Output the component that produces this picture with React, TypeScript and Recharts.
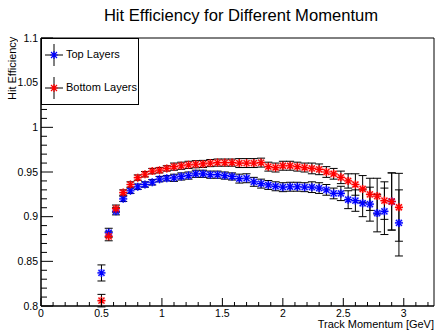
import React from 'react';
import { ScatterChart, Scatter, XAxis, YAxis, ErrorBar, ReferenceArea } from 'recharts';

const momentum = [
  0.5, 0.56, 0.62, 0.68, 0.74, 0.8, 0.86, 0.92, 0.98, 1.04, 1.1, 1.16, 1.22, 1.28,
  1.34, 1.4, 1.46, 1.52, 1.58, 1.64, 1.7, 1.76, 1.82, 1.88, 1.94, 2.0, 2.06, 2.12,
  2.18, 2.24, 2.3, 2.36, 2.42, 2.48, 2.54, 2.6, 2.66, 2.72, 2.78, 2.84, 2.9, 2.96,
];

const topEff = [
  0.837, 0.882, 0.906, 0.92, 0.929, 0.9335, 0.936, 0.9385, 0.942, 0.943, 0.9435, 0.945, 0.946, 0.948,
  0.948, 0.947, 0.947, 0.946, 0.945, 0.9426, 0.943, 0.939, 0.937, 0.9355, 0.934, 0.933, 0.9335, 0.9335,
  0.933, 0.933, 0.932, 0.93, 0.926, 0.926, 0.919, 0.918, 0.915, 0.914, 0.904, 0.906, 0.917, 0.893,
];
const topErr = [
  0.009, 0.005, 0.004, 0.003, 0.003, 0.003, 0.003, 0.003, 0.003, 0.003, 0.004, 0.004, 0.004, 0.004,
  0.004, 0.004, 0.004, 0.004, 0.004, 0.005, 0.005, 0.005, 0.005, 0.005, 0.005, 0.005, 0.005, 0.005,
  0.005, 0.006, 0.006, 0.006, 0.006, 0.008, 0.01, 0.012, 0.015, 0.019, 0.021, 0.026, 0.032, 0.037,
];

const bottomEff = [
  0.806, 0.878, 0.909, 0.927, 0.936, 0.9437, 0.9475, 0.951, 0.952, 0.954, 0.956, 0.957, 0.958, 0.9587,
  0.959, 0.96, 0.9605, 0.9605, 0.9605, 0.96, 0.96, 0.96, 0.9605, 0.956, 0.955, 0.957, 0.957, 0.956,
  0.955, 0.954, 0.953, 0.95, 0.948, 0.944, 0.94, 0.936, 0.931, 0.925, 0.923, 0.918, 0.917, 0.9105,
];
const bottomErr = [
  0.007, 0.005, 0.004, 0.003, 0.003, 0.003, 0.003, 0.003, 0.003, 0.003, 0.004, 0.004, 0.004, 0.004,
  0.004, 0.004, 0.004, 0.004, 0.004, 0.005, 0.005, 0.005, 0.005, 0.005, 0.005, 0.005, 0.005, 0.005,
  0.005, 0.006, 0.006, 0.006, 0.006, 0.007, 0.008, 0.012, 0.015, 0.018, 0.02, 0.021, 0.032, 0.038,
];

const xMajorTicks = [0, 0.5, 1, 1.5, 2, 2.5, 3];
const xMajorLabels = ['0', '0.5', '1', '1.5', '2', '2.5', '3'];
const xAllTicks = [
  0, 0.1, 0.2, 0.3, 0.4, 0.5, 0.6, 0.7, 0.8, 0.9, 1, 1.1, 1.2, 1.3, 1.4, 1.5, 1.6,
  1.7, 1.8, 1.9, 2, 2.1, 2.2, 2.3, 2.4, 2.5, 2.6, 2.7, 2.8, 2.9, 3, 3.1, 3.2,
];
const yMajorTicks = [0.8, 0.85, 0.9, 0.95, 1, 1.05, 1.1];
const yMajorLabels = ['0.8', '0.85', '0.9', '0.95', '1', '1.05', '1.1'];
const yAllTicks = [
  0.8, 0.81, 0.82, 0.83, 0.84, 0.85, 0.86, 0.87, 0.88, 0.89, 0.9, 0.91, 0.92, 0.93, 0.94, 0.95,
  0.96, 0.97, 0.98, 0.99, 1, 1.01, 1.02, 1.03, 1.04, 1.05, 1.06, 1.07, 1.08, 1.09, 1.1,
];

const seriesNames = ['Top Layers', 'Bottom Layers'];
const seriesColors = ['#0000ff', '#ff0000'];

const topData = momentum.map((x, i) => ({ x, y: topEff[i], err: topErr[i] }));
const bottomData = momentum.map((x, i) => ({ x, y: bottomEff[i], err: bottomErr[i] }));

const FONT = '"Liberation Sans", Arial, Helvetica, sans-serif';

const findMajor = (arr: number[], v: number) => arr.findIndex((m) => Math.abs(m - v) < 1e-6);

const XTick = (props: any) => {
  const { x, y, payload } = props;
  const idx = findMajor(xMajorTicks, payload.value);
  const major = idx >= 0;
  return (
    <g>
      <line x1={x} x2={x} y1={y} y2={y - (major ? 8 : 4)} stroke="#000" strokeWidth={1} />
      {major && (
        <text x={x} y={y + 11} textAnchor="middle" fontSize={10.5} fontFamily={FONT} fill="#000">
          {xMajorLabels[idx]}
        </text>
      )}
    </g>
  );
};

const YTick = (props: any) => {
  const { x, y, payload } = props;
  const idx = findMajor(yMajorTicks, payload.value);
  const major = idx >= 0;
  return (
    <g>
      <line x1={x} x2={x + (major ? 12 : 6)} y1={y} y2={y} stroke="#000" strokeWidth={1} />
      {major && (
        <text x={x - 3} y={y + 3.5} textAnchor="end" fontSize={10.5} fontFamily={FONT} fill="#000">
          {yMajorLabels[idx]}
        </text>
      )}
    </g>
  );
};

const starShape = (color: string) => (props: any) => {
  const { cx, cy } = props;
  if (cx == null || cy == null) return <g />;
  const r = 4;
  const d = 3;
  const path = `M${cx - r},${cy}L${cx + r},${cy}M${cx},${cy - r}L${cx},${cy + r}M${cx - d},${cy - d}L${cx + d},${cy + d}M${cx - d},${cy + d}L${cx + d},${cy - d}`;
  return (
    <g>
      <path d={path} stroke={color} strokeWidth={2.4} strokeOpacity={0.3} fill="none" />
      <path d={path} stroke={color} strokeWidth={1.2} fill="none" />
    </g>
  );
};

const LegendMarker = ({ color }: { color: string }) => (
  <svg width={24} height={24} style={{ position: 'absolute', left: 0, top: 0 }}>
    <line x1={12} x2={12} y1={1} y2={23} stroke="#000" strokeWidth={1} />
    <line x1={3} x2={21} y1={12} y2={12} stroke="#000" strokeWidth={1} />
    <path d="M8,12L16,12M12,8L12,16M9,9L15,15M9,15L15,9" stroke={color} strokeWidth={1.2} fill="none" />
  </svg>
);

export default function App() {
  return (
    <div style={{ position: 'absolute', left: 0, top: 0, width: 435, height: 330, background: '#fff', fontFamily: FONT }}>
      <ScatterChart width={435} height={330} margin={{ top: 38, right: 1, bottom: 0, left: 0 }}>
        <XAxis
          type="number"
          dataKey="x"
          domain={[0, 3.25]}
          allowDataOverflow
          ticks={xAllTicks}
          interval={0}
          tick={XTick}
          tickLine={false}
          tickSize={0}
          tickMargin={0}
          height={24}
          axisLine={{ stroke: '#000' }}
        />
        <YAxis
          type="number"
          dataKey="y"
          domain={[0.8, 1.1]}
          allowDataOverflow
          ticks={yAllTicks}
          interval={0}
          tick={YTick}
          tickLine={false}
          tickSize={0}
          tickMargin={0}
          width={41}
          axisLine={{ stroke: '#000' }}
        />
        <ReferenceArea x1={0} x2={3.25} y1={0.8} y2={1.1} fill="none" stroke="#000" strokeWidth={1} fillOpacity={0} />
        <Scatter name={seriesNames[0]} data={topData} shape={starShape(seriesColors[0])} isAnimationActive={false}>
          <ErrorBar dataKey="err" direction="y" width={4} stroke="#000" strokeWidth={1} isAnimationActive={false} />
        </Scatter>
        <Scatter name={seriesNames[1]} data={bottomData} shape={starShape(seriesColors[1])} isAnimationActive={false}>
          <ErrorBar dataKey="err" direction="y" width={4} stroke="#000" strokeWidth={1} isAnimationActive={false} />
        </Scatter>
      </ScatterChart>

      <div style={{ position: 'absolute', left: 0, top: 6, width: 482, textAlign: 'center', fontSize: 16.6, color: '#000', whiteSpace: 'nowrap' }}>
        Hit Efficiency for Different Momentum
      </div>

      <div style={{ position: 'absolute', right: 1, top: 319, fontSize: 11, lineHeight: '11px', color: '#000', whiteSpace: 'nowrap' }}>
        Track Momentum [GeV]
      </div>

      <div
        style={{
          position: 'absolute',
          left: 6,
          top: 38,
          fontSize: 11,
          color: '#000',
          whiteSpace: 'nowrap',
          writingMode: 'vertical-rl',
          transform: 'rotate(180deg)',
          height: 62,
          textAlign: 'left',
        }}
      >
        Hit Efficiency
      </div>

      <div
        style={{
          position: 'absolute',
          left: 41,
          top: 38,
          width: 98,
          height: 67,
          border: '1px solid #000',
          background: '#fff',
          boxSizing: 'border-box',
        }}
      >
        {seriesNames.map((name, i) => (
          <div key={name} style={{ position: 'absolute', left: 0, top: i === 0 ? 4 : 37, width: 96, height: 24 }}>
            <div style={{ position: 'absolute', left: 0, top: 0, width: 24, height: 24 }}>
              <LegendMarker color={seriesColors[i]} />
            </div>
            <div style={{ position: 'absolute', left: 24, top: 5, fontSize: 11, color: '#000', whiteSpace: 'nowrap' }}>
              {name}
            </div>
          </div>
        ))}
      </div>
    </div>
  );
}
